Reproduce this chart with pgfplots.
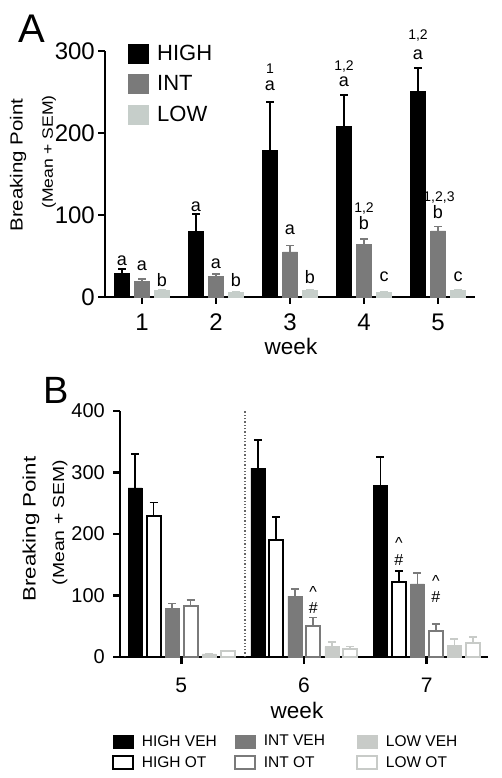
\documentclass[border=0pt]{standalone}
\usepackage{fontspec}
\setmainfont{Liberation Sans}
\usepackage{pgfplots}
\usepackage{pgfplotstable}
\pgfplotsset{compat=1.18}
\definecolor{intg}{RGB}{122,122,122}
\definecolor{lowA}{RGB}{198,206,202}
\definecolor{lowB}{RGB}{200,203,200}
\newcommand{\fs}[1]{\fontsize{#1pt}{#1pt}\selectfont}
\newcommand{\ann}[4]{\node[font=\fs{#1}, anchor=base, xshift=#2, inner sep=0pt] at (axis cs:#3) {#4};}

\pgfplotstableread{
w  high highe int  inte low lowe
1  29   5     19.5 2.5  8   1
2  80   21    25   3    6   0.8
3  179  59    55   8    8   1
4  208  38    64   7    6   0.8
5  251  28    80.5 5.5  8   1
}\dataA

\pgfplotstableread{
w hv  hve ho    hoe  iv  ive io ioe  lv   lve lo   loe
5 275 55  229   22   79  8   83 10   5    1   9    1.5
6 307 46  190   38   99  12  51 13.5 17   7   12.5 4.5
7 279 46  122.5 17.5 119 18  43 10.7 19.5 9.3 22   11
}\dataB

\pgfplotsset{
  common/.style={
    scale only axis, axis lines=left, axis line style={-, line width=2.6pt},
    every tick/.style={black, line width=2.6pt},
    major tick length=7pt, tick align=outside,
    ybar, clip=false,
    /pgf/number format/assume math mode=true,
    ymin=0,
  },
  eb/.style={error bars/.cd, y dir=plus, y explicit,
     error bar style={line width=1.6pt, color=#1},
     error mark options={rotate=90, line width=1.6pt, mark size=4pt, color=#1}},
}
\begin{document}
\begin{tikzpicture}
\useasboundingbox (0,0) rectangle (501pt,778pt);
% ---------------- Panel A ----------------
\begin{axis}[common, at={(105pt,481pt)}, anchor=south west,
  width=370pt, height=246pt, xmin=0.5, xmax=5.5, ymax=300,
  xtick={1,2,3,4,5}, ytick={0,100,200,300},
  xticklabel style={font=\fs{24}, anchor=north, inner sep=0pt, yshift=-10pt},
  yticklabel style={font=\fs{24}, anchor=east, inner sep=0pt, xshift=-3pt},
  bar width=15pt,
  legend style={at={(rel axis cs:0.061,1.03)}, anchor=north west, draw=none, fill=none,
    font=\fs{22}, row sep=11pt, inner sep=0pt, nodes={inner sep=0pt},
    cells={anchor=west},
    /tikz/every odd column/.append style={column sep=9pt}},
  legend image code/.code={\draw[#1] (0pt,-9.5pt) rectangle (20pt,9.5pt);},
]
\addplot[fill=black, draw=black, bar shift=-20pt, eb=black] table[x=w,y=high,y error=highe]{\dataA};
\addlegendentry{HIGH}
\addplot[fill=intg, draw=intg, bar shift=0pt, eb=intg] table[x=w,y=int,y error=inte]{\dataA};
\addlegendentry{INT}
\addplot[fill=lowA, draw=lowA, bar shift=20pt, eb=lowA] table[x=w,y=low,y error=lowe]{\dataA};
\addlegendentry{LOW}
% annotations
\ann{18}{-20pt}{1,39}{a}\ann{18}{0pt}{1,32}{a}\ann{18}{20pt}{1,12.6}{b}
\ann{18}{-20pt}{2,104}{a}\ann{18}{0pt}{2,35}{a}\ann{18}{20pt}{2,12.6}{b}
\ann{14}{-20pt}{3,273}{1}\ann{18}{-20pt}{3,252}{a}\ann{18}{0pt}{3,75.6}{a}\ann{18}{20pt}{3,16.7}{b}
\ann{14}{-20pt}{4,276}{1,2}\ann{18}{-20pt}{4,257}{a}\ann{14}{0pt}{4,103}{1,2}\ann{18}{0pt}{4,82.5}{b}\ann{18}{20pt}{4,18.7}{c}
\ann{14}{-20pt}{5,314}{1,2}\ann{18}{-20pt}{5,290}{a}\ann{14}{1pt}{5,116}{1,2,3}\ann{18}{0pt}{5,95.5}{b}\ann{18}{20pt}{5,18.7}{c}
\end{axis}
\node[font=\fs{40}] at (31.5pt,749pt) {A};
\node[font=\fs{17.5}, rotate=90] at (18pt,613pt) {\scalebox{1.17}[1]{Breaking Point}};
\node[font=\fs{15}, rotate=90] at (49pt,626pt) {\scalebox{1.17}[1]{(Mean + SEM)}};
\node[font=\fs{22.5}] at (291pt,432pt) {week};
% ---------------- Panel B ----------------
\begin{axis}[common, at={(120pt,121pt)}, anchor=south west,
  width=368pt, height=246pt, xmin=4.5, xmax=7.5, ymax=400,
  xtick={5,6,7}, ytick={0,100,200,300,400},
  xticklabel style={font=\fs{21}, anchor=north, inner sep=0pt, yshift=-14pt},
  yticklabel style={font=\fs{20}, anchor=east, inner sep=0pt, xshift=-8pt},
  bar width=14pt,
  legend columns=3,
  legend style={at={(rel axis cs:-0.0226,-0.315)}, anchor=north west, draw=none, fill=none,
    font=\fs{15.5}, row sep=7pt, inner sep=0pt, nodes={inner sep=0pt},
    cells={anchor=west},
    /tikz/every odd column/.append style={column sep=8pt}},
  legend image code/.code={\draw[#1] (0pt,-6.5pt) rectangle (20pt,6.5pt);},
]
\addplot[fill=black, draw=black, bar shift=-46.25pt, eb=black] table[x=w,y=hv,y error=hve]{\dataB};
\addlegendentry{\makebox[92pt][l]{HIGH VEH}}
\addplot[fill=intg, draw=intg, bar shift=-9.25pt, eb=intg] table[x=w,y=iv,y error=ive]{\dataB};
\addlegendentry{\makebox[92pt][l]{INT VEH}}
\addplot[fill=lowB, draw=lowB, bar shift=27.75pt, eb=lowB] table[x=w,y=lv,y error=lve]{\dataB};
\addlegendentry{\makebox[92pt][l]{LOW VEH}}
\addplot[fill=white, draw=black, line width=2pt, bar shift=-27.75pt, eb=black] table[x=w,y=ho,y error=hoe]{\dataB};
\addlegendentry{\makebox[92pt][l]{HIGH OT}}
\addplot[fill=white, draw=intg, line width=2pt, bar shift=9.25pt, eb=intg] table[x=w,y=io,y error=ioe]{\dataB};
\addlegendentry{\makebox[92pt][l]{INT OT}}
\addplot[fill=white, draw=lowB, line width=2pt, bar shift=46.25pt, eb=lowB] table[x=w,y=lo,y error=loe]{\dataB};
\addlegendentry{\makebox[92pt][l]{LOW OT}}
\draw[dotted, line width=1.3pt, black!60] (axis cs:5.52,0) -- (axis cs:5.52,400);
\ann{16}{9.25pt}{6,96}{\^{}}\ann{16}{9.25pt}{6,71}{\#}
\ann{16}{-27.75pt}{7,176}{\^{}}\ann{16}{-27.75pt}{7,148}{\#}
\ann{16}{9.25pt}{7,115}{\^{}}\ann{16}{9.25pt}{7,88.3}{\#}
\end{axis}
\node[font=\fs{38}] at (56.5pt,388pt) {B};
\node[font=\fs{18}, rotate=90] at (31pt,249pt) {\scalebox{1.24}[1]{Breaking Point}};
\node[font=\fs{16}, rotate=90] at (60pt,255.5pt) {\scalebox{1.21}[1]{(Mean + SEM)}};
\node[font=\fs{22.5}] at (297pt,68pt) {week};
\end{tikzpicture}
\end{document}
